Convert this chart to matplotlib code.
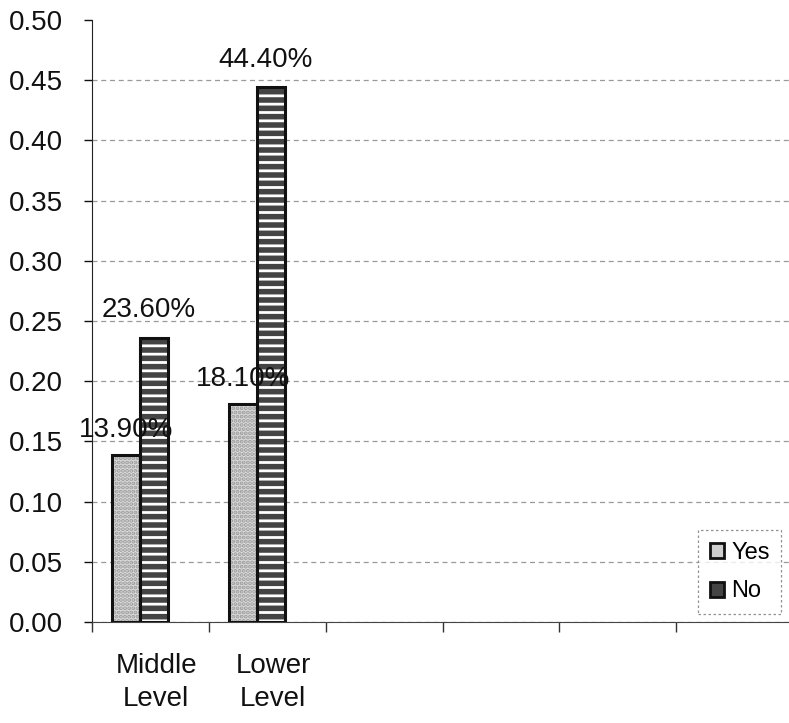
import numpy as np
import matplotlib
matplotlib.use("Agg")
import matplotlib.pyplot as plt
from matplotlib.patches import Patch

# data
categories = ["Middle\nLevel", "Lower\nLevel"]
yes_vals = [0.139, 0.181]
no_vals = [0.236, 0.444]
yes_labels = ["13.90%", "18.10%"]
no_labels = ["23.60%", "44.40%"]
n_slots = 6  # the category axis has room for 6 groups, only 2 are used

plt.rcParams["font.family"] = ["Liberation Sans", "DejaVu Sans"]
plt.rcParams["hatch.linewidth"] = 2.0

fig = plt.figure(figsize=(7.89, 7.23), dpi=100)
ax = fig.add_axes([92 / 789, 1 - 622 / 723, (793 - 92) / 789, (622 - 20) / 723])

x = np.arange(len(categories))
w = 0.24
x_yes = x - 0.21
x_no = x + 0.03

# Yes bars: light grey speckle
ax.bar(x_yes, yes_vals, w, color="#dcdcdc", edgecolor="#9a9a9a", hatch="....",
       linewidth=0, zorder=3)
ax.bar(x_yes, yes_vals, w, fill=False, edgecolor="#111111", linewidth=2.2, zorder=4)
# No bars: dark with white horizontal stripes
ax.bar(x_no, no_vals, w, color="#444444", edgecolor="white", hatch="--",
       linewidth=0, zorder=3)
ax.bar(x_no, no_vals, w, fill=False, edgecolor="#111111", linewidth=2.2, zorder=4)

for xi, v, s in zip(x_yes, yes_vals, yes_labels):
    ax.annotate(s, (xi, v), xytext=(0, 18), textcoords="offset points",
                ha="center", va="center", fontsize=20, color="#111111", zorder=5)
for xi, v, s in zip(x_no, no_vals, no_labels):
    ax.annotate(s, (xi, v), xytext=(-4, 20), textcoords="offset points",
                ha="center", va="center", fontsize=20, color="#111111", zorder=5)

ax.set_xlim(-0.5, n_slots - 0.5)
ax.set_ylim(0, 0.5)
ax.set_yticks(np.arange(0, 0.501, 0.05))
ax.set_yticklabels([f"{t:.2f}" for t in np.arange(0, 0.501, 0.05)])
ax.tick_params(axis="y", labelsize=20, length=6, width=1, pad=15, colors="#111111")

ax.set_xticks(x + 0.05)
ax.set_xticklabels(categories)
ax.set_xticks(np.arange(-0.5, n_slots, 1.0), minor=True)
ax.tick_params(axis="x", which="major", length=0, labelsize=20, pad=22, colors="#111111")
ax.tick_params(axis="x", which="minor", length=7, width=1, color="#333333")
for lab in ax.get_xticklabels():
    lab.set_linespacing(1.35)

ax.yaxis.grid(True, linestyle=(0, (4, 3)), color="#9a9a9a", linewidth=0.9, zorder=0)
ax.get_ygridlines()[-1].set_visible(False)
ax.spines["top"].set_visible(False)
ax.spines["right"].set_visible(False)
ax.spines["left"].set_color("#222222")
ax.spines["bottom"].set_color("#444444")

handles = [Patch(facecolor="#cfcfcf", edgecolor="#111111", linewidth=2, label="Yes"),
           Patch(facecolor="#444444", edgecolor="#111111", linewidth=2, label="No")]
leg = fig.legend(handles=handles, loc="upper left", bbox_to_anchor=(698 / 789, 1 - 530 / 723),
                 borderaxespad=0, fontsize=17, frameon=True, fancybox=False,
                 handlelength=0.6, handleheight=0.6, handletextpad=0.3,
                 borderpad=0.5, labelspacing=0.7)
leg.get_frame().set_edgecolor("#777777")
leg.get_frame().set_linestyle((0, (2, 2)))
leg.get_frame().set_linewidth(0.9)

fig.savefig("out.png", dpi=100, facecolor="white")
